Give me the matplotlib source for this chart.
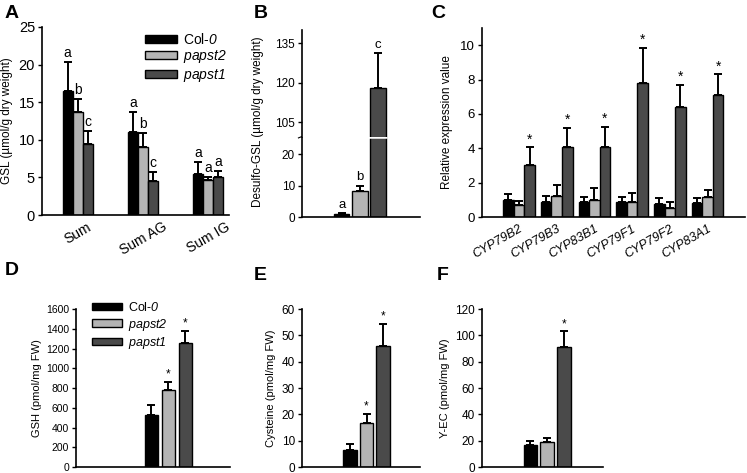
import matplotlib
matplotlib.use("Agg")
import matplotlib.pyplot as plt
import numpy as np

plt.rcParams['font.family'] = ['Liberation Sans', 'DejaVu Sans']
plt.rcParams['mathtext.fontset'] = 'custom'
plt.rcParams['mathtext.it'] = 'Liberation Sans:italic'
plt.rcParams['mathtext.rm'] = 'Liberation Sans:italic'

# ---------------- data ----------------
genotypes = ["Col-$0$", "$papst2$", "$papst1$"]
colors = ["#000000", "#b4b4b4", "#4a4a4a"]

# Panel A
a_cats = ["Sum", "Sum AG", "Sum IG"]
a_col0 = [16.5, 11.1, 5.5]
a_col0_err = [3.9, 2.6, 1.5]
a_p2 = [13.7, 9.1, 4.6]
a_p2_err = [1.7, 1.8, 0.5]
a_p1 = [9.5, 4.5, 5.0]
a_p1_err = [1.7, 1.2, 0.8]
a_letters = [["a", "a", "a"], ["b", "b", "a"], ["c", "c", "a"]]

# Panel B
b_vals = [0.8, 8.2, 118.0]
b_err = [0.5, 1.8, 13.3]
b_letters = ["a", "b", "c"]

# Panel C
c_genes = ["CYP79B2", "CYP79B3", "CYP83B1", "CYP79F1", "CYP79F2", "CYP83A1"]
c_col0 = [1.0, 0.85, 0.85, 0.85, 0.75, 0.8]
c_col0_err = [0.35, 0.4, 0.3, 0.3, 0.35, 0.3]
c_p2 = [0.7, 1.2, 1.0, 0.9, 0.55, 1.15]
c_p2_err = [0.25, 0.65, 0.7, 0.5, 0.35, 0.4]
c_p1 = [3.05, 4.05, 4.05, 7.8, 6.4, 7.1]
c_p1_err = [1.0, 1.15, 1.2, 2.05, 1.3, 1.2]

# Panels D, E, F
d_vals = [530, 780, 1260]
d_err = [100, 85, 120]
d_marks = ["", "*", "*"]
e_vals = [6.5, 16.8, 46.0]
e_err = [2.3, 3.3, 8.3]
e_marks = ["", "*", "*"]
f_vals = [16.5, 19.0, 91.0]
f_err = [3.0, 3.0, 12.0]
f_marks = ["", "", "*"]

W, H = 747, 473
fig = plt.figure(figsize=(W / 100, H / 100), dpi=100)


def add_ax(left, right, top, bottom):
    return fig.add_axes([left / W, 1 - bottom / H, (right - left) / W, (bottom - top) / H])


def style(ax, fs):
    for s in ["top", "right"]:
        ax.spines[s].set_visible(False)
    for s in ["left", "bottom"]:
        ax.spines[s].set_linewidth(1.2)
    ax.tick_params(axis="y", direction="out", length=3, width=1.0, labelsize=fs, pad=2)
    ax.tick_params(axis="x", length=0, labelsize=fs)


def ebar(ax, x, v, e):
    ax.errorbar(x, v, yerr=[np.zeros(len(np.atleast_1d(v))), e], fmt="none",
                ecolor="black", elinewidth=1.4, capsize=3, capthick=1.4, zorder=1)


# ---------------- Panel A ----------------
axA = add_ax(42, 229, 27, 215)
style(axA, 10.5)
xa = np.arange(len(a_cats))
bw = 0.155
for i, (vals, errs) in enumerate([(a_col0, a_col0_err), (a_p2, a_p2_err), (a_p1, a_p1_err)]):
    xs = xa + (i - 1) * bw
    axA.bar(xs, vals, bw, color=colors[i], edgecolor="black", linewidth=1.0, label=genotypes[i], zorder=2)
    ebar(axA, xs, vals, errs)
    for j in range(len(xa)):
        axA.annotate(a_letters[i][j], (xs[j], vals[j] + errs[j]), xytext=(0, 1.5),
                     textcoords="offset points", ha="center", va="bottom", fontsize=10)
axA.set_xlim(-0.55, 2.32)
axA.set_ylim(0, 25)
axA.set_yticks([0, 5, 10, 15, 20, 25])
axA.set_xticks(xa)
axA.set_xticklabels(a_cats, rotation=30, ha="center", va="top", fontsize=10)
axA.set_ylabel("GSL (µmol/g dry weight)", fontsize=8.5, labelpad=4)
axA.legend(loc="upper left", bbox_to_anchor=(0.551, 0.975), frameon=False, fontsize=10,
           handlelength=2.3, handleheight=0.5, labelspacing=0.12, handletextpad=0.45,
           borderpad=0, borderaxespad=0)

# ---------------- Panel B (broken axis) ----------------
xb = np.arange(3)
bwb = 0.85
axBl = add_ax(302, 420, 136.7, 217)
axBu = add_ax(302, 420, 30, 136.7)
for ax in (axBl, axBu):
    style(ax, 8.5)
    ax.bar(xb, b_vals, bwb, color=colors, edgecolor="black", linewidth=1.0, zorder=2)
    ebar(ax, xb, b_vals, b_err)
    ax.set_xlim(-2.2, 4.33)
    ax.set_xticks([])
axBl.set_ylim(0, 25.5)
axBl.set_yticks([0, 10, 20])
axBu.set_ylim(99.5, 140)
axBu.set_yticks([105, 120, 135])
axBu.spines["bottom"].set_visible(False)
axBl.spines["top"].set_visible(False)
for j in range(3):
    tgt = axBu if b_vals[j] + b_err[j] > 25 else axBl
    tgt.annotate(b_letters[j], (xb[j], b_vals[j] + b_err[j]), xytext=(0, 1.5),
                 textcoords="offset points", ha="center", va="bottom", fontsize=9.5)
# white gap across the broken bar
axBl.plot([xb[2] - 0.52, xb[2] + 0.52], [25.3, 25.3], color="white", lw=1.8, zorder=5,
          solid_capstyle="butt", clip_on=False)
# break mark on the axis
axBl.plot([-0.03, 0.03], [0.985, 1.02], transform=axBl.transAxes, color="black", lw=0.8, clip_on=False)
fig.text(258 / W, 1 - 122 / H, "Desulfo-GSL (µmol/g dry weight)", rotation=90,
         ha="center", va="center", fontsize=8.5)

# ---------------- Panel C ----------------
axC = add_ax(482, 745, 28, 217)
style(axC, 9.5)
xc = np.arange(len(c_genes))
bwc = 0.28
for i, (vals, errs) in enumerate([(c_col0, c_col0_err), (c_p2, c_p2_err), (c_p1, c_p1_err)]):
    xs = xc + (i - 1) * bwc
    axC.bar(xs, vals, bwc, color=colors[i], edgecolor="black", linewidth=1.0, zorder=2)
    ebar(axC, xs, vals, errs)
    if i == 2:
        for j in range(len(xc)):
            axC.annotate("*", (xs[j], vals[j] + errs[j]), xytext=(0, 0.5),
                         textcoords="offset points", ha="center", va="bottom", fontsize=10)
axC.set_xlim(-0.98, 5.99)
axC.set_ylim(0, 11)
axC.set_yticks([0, 2, 4, 6, 8, 10])
axC.set_xticks(xc + 0.0)
axC.set_xticklabels(c_genes, rotation=30, ha="right", va="top", rotation_mode="anchor",
                    fontsize=9, style="italic")
axC.tick_params(axis="x", pad=4)
axC.set_ylabel("Relative expression value", fontsize=8.5, labelpad=5)


# ---------------- Panels D, E, F ----------------
def small_panel(box, vals, errs, marks, xlim, ylim, yticks, ylabel, fs, lp):
    ax = add_ax(*box)
    style(ax, fs)
    xs = np.arange(3)
    bars = ax.bar(xs, vals, 0.8, color=colors, edgecolor="black", linewidth=1.0, zorder=2)
    ebar(ax, xs, vals, errs)
    for j in range(3):
        if marks[j]:
            ax.annotate(marks[j], (xs[j], vals[j] + errs[j]), xytext=(0, 1),
                        textcoords="offset points", ha="center", va="bottom", fontsize=8.5)
    ax.set_xlim(*xlim)
    ax.set_ylim(*ylim)
    ax.set_yticks(yticks)
    ax.set_xticks([])
    ax.set_ylabel(ylabel, fontsize=8, labelpad=lp)
    return ax, bars


axD, barsD = small_panel((76, 230, 309, 467), d_vals, d_err, d_marks, (-4.44, 4.62), (0, 1600),
                         list(range(0, 1601, 200)), "GSH (pmol/mg FW)", 7.5, 3)
axD.legend(barsD, genotypes, loc="upper left", bbox_to_anchor=(0.104, 1.05), frameon=False,
           fontsize=9, handlelength=2.4, handleheight=0.55, labelspacing=0.2, handletextpad=0.5,
           borderpad=0, borderaxespad=0)
axE, _ = small_panel((302, 420, 309, 467), e_vals, e_err, e_marks, (-2.91, 4.24), (0, 60),
                     [0, 10, 20, 30, 40, 50, 60], "Cysteine (pmol/mg FW)", 8.5, 4)
axF, _ = small_panel((482, 603, 309, 467), f_vals, f_err, f_marks, (-2.9, 4.34), (0, 120),
                     [0, 20, 40, 60, 80, 100, 120], "Y-EC (pmol/mg FW)", 8.5, 4)

# panel letters
for lab, x, y in [("A", 5, 14), ("B", 254, 14), ("C", 431, 14),
                  ("D", 5, 270), ("E", 254, 275), ("F", 437, 275)]:
    fig.text(x / W, 1 - y / H, lab, fontsize=14, fontweight="bold", ha="left", va="center")

fig.savefig("out.png", dpi=100)
